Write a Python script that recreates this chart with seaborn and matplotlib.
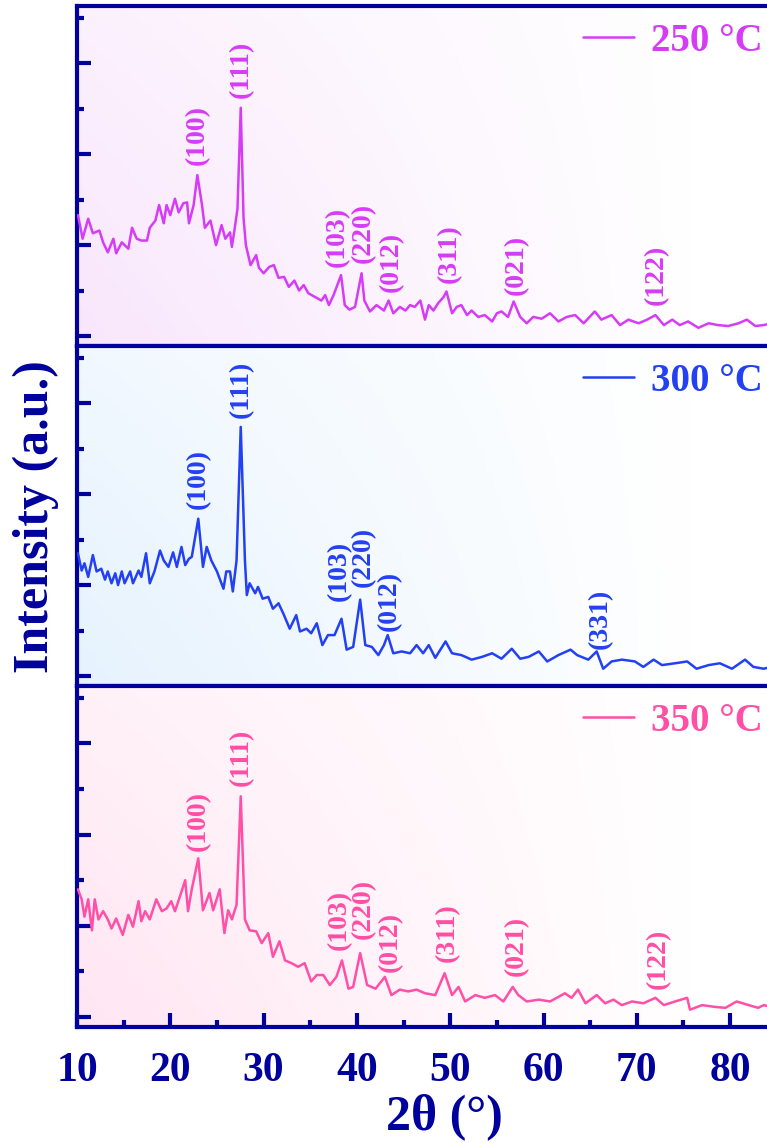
import numpy as np
import pandas as pd
import matplotlib.pyplot as plt
import seaborn as sns
from matplotlib.ticker import MultipleLocator

sns.set_style("ticks")
plt.rcParams['font.family'] = ['Liberation Serif', 'DejaVu Serif']
plt.rcParams['font.weight'] = 'bold'

# ---- data (2theta in deg, intensity in a.u.) ----
x_250 = [10.1, 10.6, 11.2, 11.7, 12.4, 12.8, 13.3, 13.9, 14.2, 14.8, 15.5, 15.9, 16.4, 16.9,
         17.5, 17.8, 18.4, 18.8, 19.3, 19.6, 20.0, 20.5, 20.9, 21.4, 21.8, 22.0, 22.5, 22.9,
         23.4, 23.7, 24.3, 24.9, 25.5, 25.9, 26.4, 26.6, 26.9, 27.2, 27.55, 27.85, 28.1, 28.6,
         29.2, 29.5, 30.0, 30.6, 31.1, 31.6, 32.2, 32.7, 33.3, 33.8, 34.3, 34.8, 35.5, 36.2,
         36.6, 37.0, 37.5, 38.3, 38.7, 39.2, 39.8, 40.5, 40.8, 41.4, 42.1, 42.9, 43.4, 43.9,
         44.6, 45.2, 45.7, 46.2, 46.8, 47.3, 47.7, 48.2, 48.7, 49.3, 49.6, 50.2, 50.7, 51.2,
         51.8, 52.3, 53.0, 53.7, 54.5, 55.0, 55.5, 56.2, 56.8, 57.5, 58.2, 58.9, 59.8, 60.7,
         61.6, 62.5, 63.4, 64.3, 65.5, 66.2, 67.3, 68.2, 69.1, 70.2, 71.1, 72.0, 72.9, 73.8,
         74.6, 75.5, 76.6, 77.7, 78.7, 79.8, 80.9, 81.8, 82.7, 83.6, 84.0]
y_250 = [1.33, 1.07, 1.29, 1.13, 1.16, 1.03, 0.92, 1.07, 0.91, 1.03, 0.96, 1.19, 1.07, 1.05,
         1.05, 1.19, 1.27, 1.44, 1.24, 1.44, 1.33, 1.51, 1.36, 1.46, 1.47, 1.24, 1.44, 1.77,
         1.44, 1.19, 1.27, 1.00, 1.22, 1.07, 1.14, 0.98, 1.18, 1.40, 2.51, 1.30, 1.00, 0.78,
         0.89, 0.75, 0.69, 0.76, 0.78, 0.64, 0.65, 0.54, 0.61, 0.50, 0.56, 0.47, 0.43, 0.39,
         0.45, 0.34, 0.45, 0.67, 0.34, 0.29, 0.32, 0.69, 0.39, 0.27, 0.34, 0.28, 0.39, 0.25,
         0.32, 0.28, 0.34, 0.32, 0.39, 0.18, 0.34, 0.28, 0.36, 0.43, 0.49, 0.25, 0.32, 0.34,
         0.23, 0.28, 0.21, 0.23, 0.16, 0.25, 0.27, 0.21, 0.38, 0.21, 0.14, 0.21, 0.19, 0.25,
         0.16, 0.21, 0.23, 0.14, 0.27, 0.18, 0.23, 0.12, 0.18, 0.14, 0.18, 0.23, 0.12, 0.18,
         0.12, 0.16, 0.09, 0.14, 0.12, 0.11, 0.14, 0.18, 0.11, 0.12, 0.13]

x_300 = [10.1, 10.5, 10.8, 11.2, 11.7, 12.1, 12.6, 13.0, 13.3, 13.7, 14.1, 14.4, 14.8, 15.1,
         15.7, 16.0, 16.6, 16.9, 17.4, 17.8, 18.3, 18.9, 19.3, 19.8, 20.3, 20.7, 21.2, 21.6,
         22.0, 22.3, 23.0, 23.5, 23.9, 24.4, 25.0, 25.7, 26.0, 26.4, 26.7, 27.1, 27.55, 28.0,
         28.2, 28.5, 29.1, 29.4, 29.9, 30.5, 31.0, 31.6, 32.1, 32.8, 33.5, 33.9, 34.6, 35.1,
         35.7, 36.3, 36.9, 37.6, 38.35, 38.9, 39.6, 40.35, 40.9, 41.6, 42.3, 42.9, 43.3, 43.9,
         44.8, 45.7, 46.4, 47.1, 47.7, 48.4, 49.5, 50.2, 51.2, 52.3, 53.4, 54.5, 55.5, 56.6,
         57.5, 58.4, 59.5, 60.4, 61.6, 62.9, 63.6, 64.8, 65.7, 66.4, 67.3, 68.4, 69.8, 70.7,
         71.8, 72.7, 74.1, 75.4, 76.4, 77.7, 78.9, 80.2, 81.6, 82.5, 83.6, 84.0]
y_300 = [1.35, 1.16, 1.24, 1.09, 1.33, 1.15, 1.18, 1.06, 1.15, 1.02, 1.13, 1.00, 1.15, 1.02,
         1.15, 1.02, 1.16, 1.09, 1.35, 1.02, 1.15, 1.38, 1.27, 1.20, 1.36, 1.20, 1.42, 1.22,
         1.29, 1.31, 1.73, 1.20, 1.42, 1.27, 1.15, 0.96, 1.15, 1.15, 0.93, 1.27, 2.74, 1.27,
         0.89, 1.02, 0.91, 0.98, 0.85, 0.87, 0.74, 0.80, 0.69, 0.52, 0.67, 0.49, 0.52, 0.47,
         0.58, 0.34, 0.45, 0.45, 0.63, 0.29, 0.32, 0.84, 0.34, 0.32, 0.23, 0.34, 0.45, 0.25,
         0.27, 0.25, 0.34, 0.25, 0.34, 0.20, 0.38, 0.25, 0.23, 0.18, 0.21, 0.25, 0.19, 0.30,
         0.19, 0.21, 0.27, 0.16, 0.23, 0.29, 0.23, 0.18, 0.27, 0.08, 0.16, 0.18, 0.16, 0.10,
         0.18, 0.12, 0.14, 0.16, 0.08, 0.12, 0.14, 0.08, 0.18, 0.10, 0.08, 0.09]

x_350 = [10.1, 10.5, 10.8, 11.2, 11.6, 11.9, 12.3, 12.8, 13.3, 13.7, 14.2, 14.9, 15.5, 16.0,
         16.6, 16.9, 17.3, 17.8, 18.5, 19.1, 19.6, 20.1, 20.5, 20.8, 21.6, 21.9, 22.3, 23.0,
         23.5, 24.2, 24.6, 25.3, 25.8, 26.2, 26.6, 27.1, 27.55, 28.0, 28.5, 29.2, 29.8, 30.5,
         31.0, 31.7, 32.3, 33.0, 33.7, 34.4, 35.1, 35.7, 36.4, 37.1, 37.8, 38.4, 39.1, 39.6,
         40.35, 41.1, 42.0, 43.0, 43.7, 44.6, 45.5, 46.4, 47.3, 48.4, 49.4, 50.2, 50.9, 51.6,
         52.7, 53.7, 54.8, 55.7, 56.7, 57.3, 58.2, 59.5, 60.7, 61.6, 62.3, 63.0, 63.7, 64.5,
         65.7, 66.6, 67.5, 68.4, 69.5, 70.7, 72.0, 72.9, 74.1, 75.4, 75.7, 77.0, 78.4, 79.5,
         80.7, 82.0, 83.0, 83.6, 84.0]
y_350 = [1.40, 1.29, 1.10, 1.29, 0.95, 1.29, 1.07, 1.16, 1.07, 0.97, 1.08, 0.90, 1.12, 0.99,
         1.27, 1.05, 1.16, 1.07, 1.29, 1.16, 1.19, 1.27, 1.16, 1.25, 1.50, 1.16, 1.40, 1.74,
         1.17, 1.36, 1.17, 1.40, 0.92, 1.17, 1.07, 1.23, 2.42, 1.07, 0.95, 0.94, 0.81, 0.92,
         0.66, 0.83, 0.62, 0.59, 0.55, 0.59, 0.39, 0.46, 0.46, 0.35, 0.44, 0.62, 0.31, 0.33,
         0.70, 0.35, 0.31, 0.44, 0.24, 0.30, 0.28, 0.30, 0.26, 0.24, 0.48, 0.24, 0.33, 0.17,
         0.24, 0.21, 0.24, 0.17, 0.33, 0.24, 0.17, 0.19, 0.17, 0.22, 0.26, 0.21, 0.30, 0.15,
         0.24, 0.15, 0.19, 0.13, 0.17, 0.15, 0.21, 0.13, 0.17, 0.21, 0.08, 0.13, 0.11, 0.10,
         0.17, 0.13, 0.10, 0.13, 0.12]

temps = ['250 °C', '300 °C', '350 °C']

# peak labels: (text, x, y of text bottom)
hkl_250 = [('(100)', 22.9, 1.88), ('(111)', 27.6, 2.62), ('(103)', 37.9, 0.76),
           ('(220)', 40.7, 0.80), ('(012)', 43.7, 0.48), ('(311)', 49.9, 0.58),
           ('(021)', 57.1, 0.45), ('(122)', 72.1, 0.34)]
hkl_300 = [('(100)', 23.0, 1.84), ('(111)', 27.6, 2.84), ('(103)', 38.1, 0.82),
           ('(220)', 40.7, 0.98), ('(012)', 43.5, 0.50), ('(331)', 66.1, 0.30)]
hkl_350 = [('(100)', 23.0, 1.82), ('(111)', 27.6, 2.53), ('(103)', 38.1, 0.73),
           ('(220)', 40.7, 0.86), ('(012)', 43.6, 0.49), ('(311)', 49.7, 0.60),
           ('(021)', 57.1, 0.45), ('(122)', 72.3, 0.31)]

series = [(x_250, y_250, hkl_250), (x_300, y_300, hkl_300), (x_350, y_350, hkl_350)]
colors = ['#D63CF5', '#2340F2', '#FF4FA6']
tints = [(0.975, 0.90, 0.99), (0.90, 0.95, 0.995), (1.0, 0.90, 0.95)]
navy = '#00009C'

fig = plt.figure(figsize=(7.67, 11.43), dpi=100)
H = 1143
bottoms = [(H - 346) / H, (H - 686) / H, (H - 1027) / H]
heights = [340 / H, 340 / H, 341 / H]
left = 77 / 767
right = 1.02
xmax = 10 + (right - left) * 767 / 9.33

# background gradient: tinted at lower-left, fading to white at right
gx, gy = np.meshgrid(np.linspace(0, 1, 200), np.linspace(0, 1, 100))
w = np.clip(1 - gx * 1.15, 0, 1) * (0.55 + 0.45 * gy)

axes = []
for i, ((xs, ys, hkl), col, tint, temp) in enumerate(zip(series, colors, tints, temps)):
    ax = fig.add_axes([left, bottoms[i], right - left, heights[i]])
    axes.append(ax)
    img = np.ones((100, 200, 3))
    for c in range(3):
        img[..., c] = 1 - w * (1 - tint[c])
    ax.imshow(img, extent=[0, 1, 0, 1], transform=ax.transAxes, aspect='auto',
              origin='upper', zorder=0)

    df = pd.DataFrame({'2theta': xs, 'I': ys})
    sns.lineplot(data=df, x='2theta', y='I', ax=ax, color=col, lw=1.8,
                 label=temp, zorder=3)

    for txt, hx, hy in hkl:
        ax.text(hx, hy, txt, rotation=90, ha='center', va='bottom', color=col,
                fontsize=20, fontweight='bold', zorder=4)

    ax.set_xlim(10, xmax)
    ax.set_ylim(-0.11, 3.63)
    ax.set_xlabel('')
    ax.set_ylabel('')
    ax.yaxis.set_major_locator(MultipleLocator(1))
    ax.yaxis.set_minor_locator(MultipleLocator(0.5))
    ax.tick_params(axis='y', which='major', direction='in', length=10, width=3,
                   color=navy, labelleft=False)
    ax.tick_params(axis='y', which='minor', direction='in', length=5, width=3,
                   color=navy)
    for s in ax.spines.values():
        s.set_color(navy)
        s.set_linewidth(3)
    ax.spines['right'].set_visible(False)

    leg = ax.legend(loc='upper right', bbox_to_anchor=(1.006, 1.02), frameon=False,
                    handlelength=1.3, handletextpad=0.45, fontsize=28,
                    labelcolor=col, borderaxespad=0.2)
    for t in leg.get_texts():
        t.set_fontweight('bold')

    if i < 2:
        ax.tick_params(axis='x', which='both', length=0, labelbottom=False)
    else:
        ax.xaxis.set_major_locator(MultipleLocator(10))
        ax.xaxis.set_minor_locator(MultipleLocator(5))
        ax.tick_params(axis='x', which='major', direction='in', length=10, width=3,
                       color=navy, labelcolor=navy, labelsize=30, pad=18)
        ax.tick_params(axis='x', which='minor', direction='in', length=5, width=3,
                       color=navy)
        for lab in ax.get_xticklabels():
            lab.set_fontweight('bold')

fig.text(0.579, 0.023, '2θ (°)', ha='center', va='center', color=navy,
         fontsize=36, fontweight='bold')
fig.text(0.047, 0.548, 'Intensity (a.u.)', ha='center', va='center', rotation=90,
         color=navy, fontsize=36, fontweight='bold')

fig.savefig('out.png', dpi=100)
